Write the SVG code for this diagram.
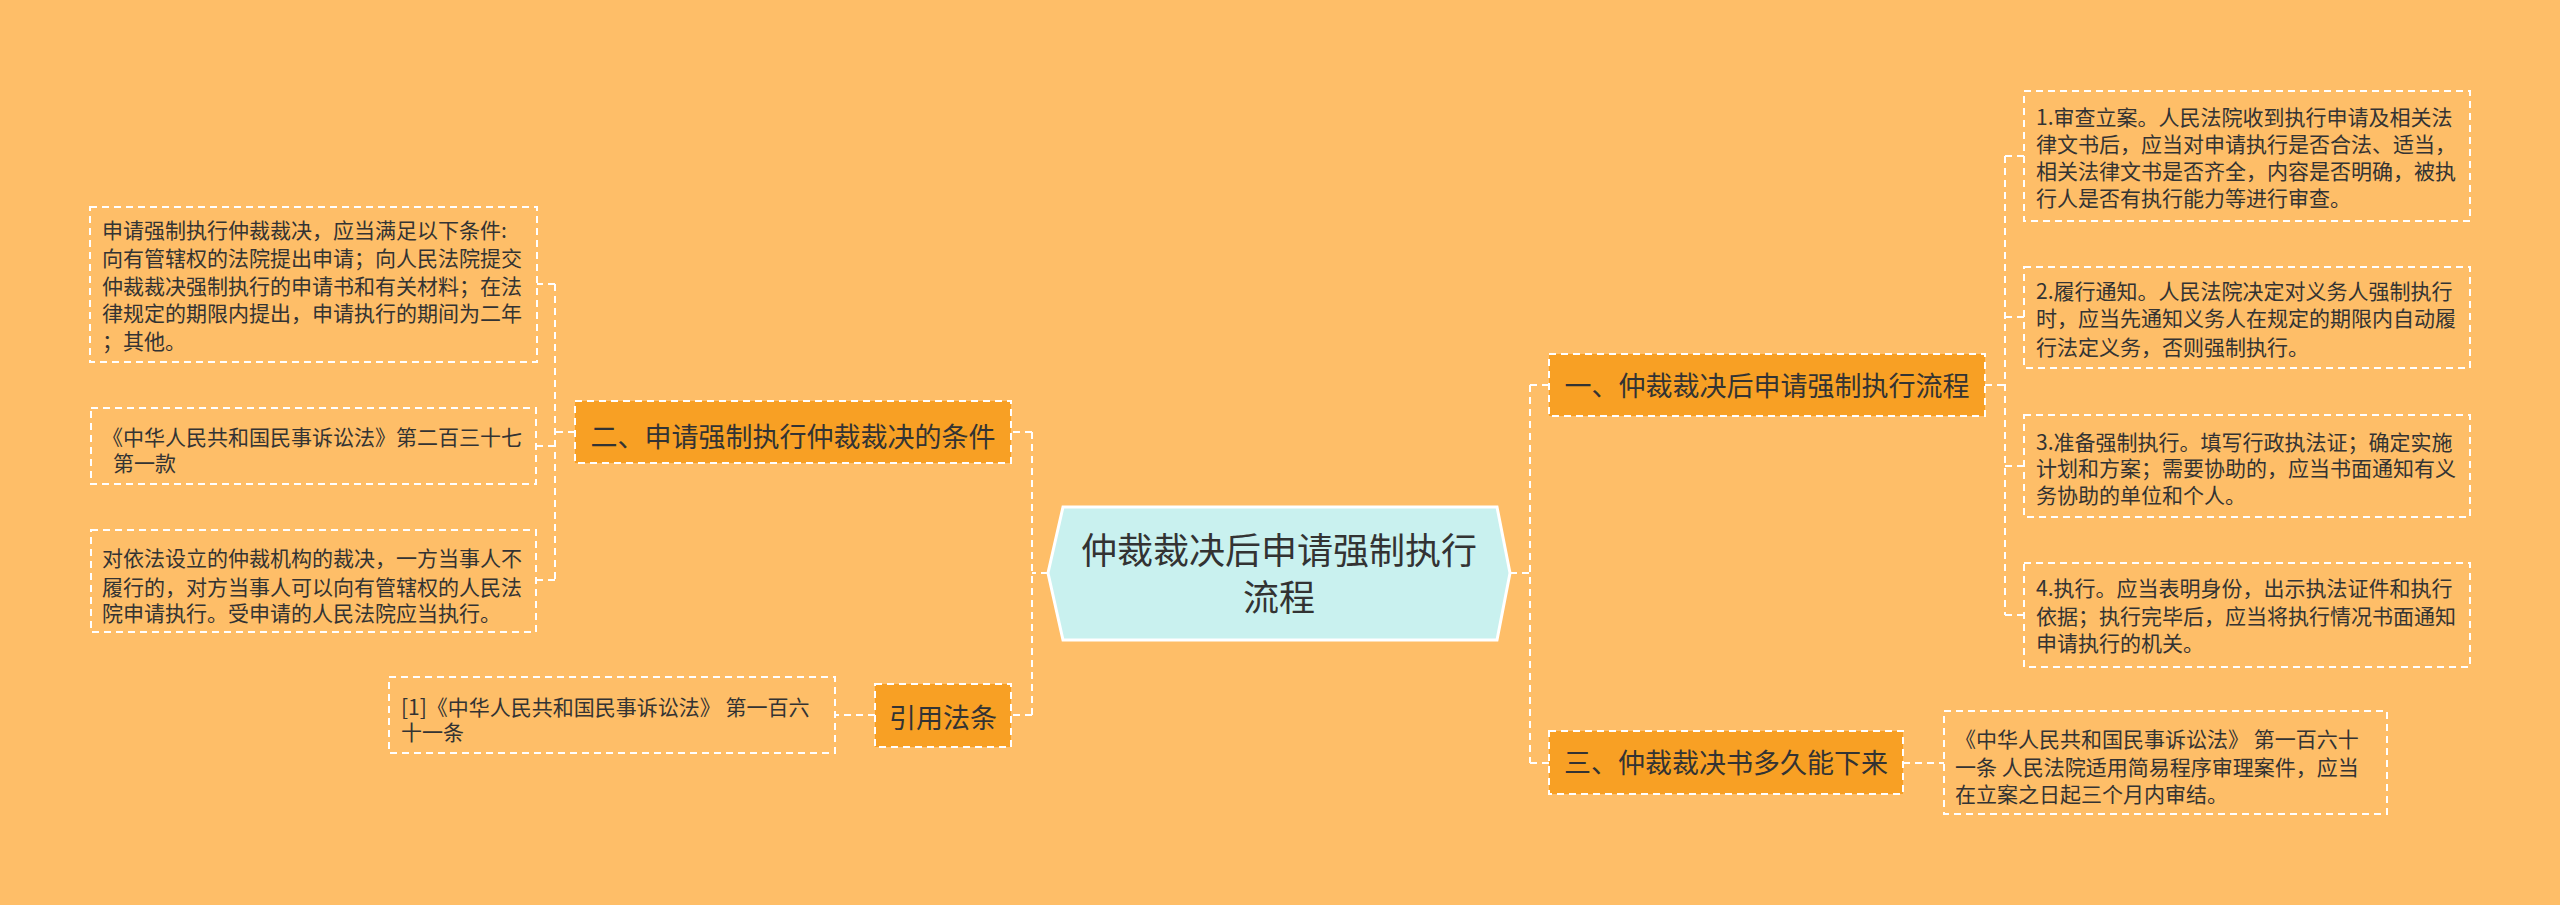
<svg xmlns="http://www.w3.org/2000/svg" width="2560" height="905" viewBox="0 0 2560 905">
<style>
.bg{fill:#FEBE68}
.branch{fill:#F8A024;stroke:#FFFFFF;stroke-width:2;stroke-dasharray:7,5}
.leaf{fill:none;stroke:#FFFFFF;stroke-width:2;stroke-dasharray:7,5}
.conn{fill:none;stroke:#FFFFFF;stroke-width:2;stroke-dasharray:7,5}
.t{font-family:"Microsoft YaHei","Noto Sans CJK SC","Noto Sans",sans-serif;fill:#333333}
.bt{font-size:27px;text-anchor:middle}
.lt{font-size:21px}
.ct{font-size:36px;text-anchor:middle}
</style>
<rect class="bg" x="0" y="0" width="2560" height="905"/>
<g id="connectors">
<path class="conn" d="M1048,573 H1032 M1032,432 V715 M1032,432 H1011 M1032,715 H1011"/>
<path class="conn" d="M575,432 H555 M555,284 V580 M555,284 H537 M555,446 H536 M555,580 H536"/>
<path class="conn" d="M875,715 H835"/>
<path class="conn" d="M1510,573 H1530 M1530,385 V763 M1530,385 H1549 M1530,763 H1549"/>
<path class="conn" d="M1985,385 H2005 M2005,156 V615 M2005,156 H2024 M2005,317 H2024 M2005,466 H2024 M2005,615 H2024"/>
<path class="conn" d="M1903,763 H1944"/>
</g>
<g id="center">
<polygon points="1063,507 1497,507 1510,573 1497,640 1063,640 1048,573" fill="#C9F1EF" stroke="#FFFFFF" stroke-width="3"/>
<text class="t ct" x="1279" y="564">仲裁裁决后申请强制执行</text>
<text class="t ct" x="1279" y="611">流程</text>
</g>
<g id="node-1">
<rect class="branch" x="1549" y="354" width="436" height="62"/>
<text class="t bt" x="1767" y="396">一、仲裁裁决后申请强制执行流程</text>
</g>
<g id="node-1-1">
<rect class="leaf" x="2024" y="91" width="446" height="130"/>
<text class="t lt"><tspan x="2036" y="125">1.审查立案。人民法院收到执行申请及相关法</tspan><tspan x="2036" y="152">律文书后，应当对申请执行是否合法、适当，</tspan><tspan x="2036" y="179">相关法律文书是否齐全，内容是否明确，被执</tspan><tspan x="2036" y="206">行人是否有执行能力等进行审查。</tspan></text>
</g>
<g id="node-1-2">
<rect class="leaf" x="2024" y="267" width="446" height="101"/>
<text class="t lt"><tspan x="2036" y="299">2.履行通知。人民法院决定对义务人强制执行</tspan><tspan x="2036" y="326">时，应当先通知义务人在规定的期限内自动履</tspan><tspan x="2036" y="355">行法定义务，否则强制执行。</tspan></text>
</g>
<g id="node-1-3">
<rect class="leaf" x="2024" y="415" width="446" height="102"/>
<text class="t lt"><tspan x="2036" y="450">3.准备强制执行。填写行政执法证；确定实施</tspan><tspan x="2036" y="476">计划和方案；需要协助的，应当书面通知有义</tspan><tspan x="2036" y="503">务协助的单位和个人。</tspan></text>
</g>
<g id="node-1-4">
<rect class="leaf" x="2024" y="563" width="446" height="104"/>
<text class="t lt"><tspan x="2036" y="596">4.执行。应当表明身份，出示执法证件和执行</tspan><tspan x="2036" y="624">依据；执行完毕后，应当将执行情况书面通知</tspan><tspan x="2036" y="651">申请执行的机关。</tspan></text>
</g>
<g id="node-3">
<rect class="branch" x="1549" y="731" width="354" height="63"/>
<text class="t bt" x="1726" y="773">三、仲裁裁决书多久能下来</text>
</g>
<g id="node-3-1">
<rect class="leaf" x="1944" y="711" width="443" height="103"/>
<text class="t lt"><tspan x="1955" y="747">《中华人民共和国民事诉讼法》 第一百六十</tspan><tspan x="1955" y="775">一条 人民法院适用简易程序审理案件，应当</tspan><tspan x="1955" y="802">在立案之日起三个月内审结。</tspan></text>
</g>
<g id="node-2">
<rect class="branch" x="575" y="401" width="436" height="62"/>
<text class="t bt" x="793" y="447">二、申请强制执行仲裁裁决的条件</text>
</g>
<g id="node-2-1">
<rect class="leaf" x="90" y="207" width="447" height="155"/>
<text class="t lt"><tspan x="102" y="238">申请强制执行仲裁裁决，应当满足以下条件:</tspan><tspan x="102" y="266">向有管辖权的法院提出申请；向人民法院提交</tspan><tspan x="102" y="294">仲裁裁决强制执行的申请书和有关材料；在法</tspan><tspan x="102" y="321">律规定的期限内提出，申请执行的期间为二年</tspan><tspan x="102" y="349">；其他。</tspan></text>
</g>
<g id="node-2-2">
<rect class="leaf" x="91" y="408" width="445" height="76"/>
<text class="t lt"><tspan x="102" y="445">《中华人民共和国民事诉讼法》第二百三十七</tspan><tspan x="113" y="471">第一款</tspan></text>
</g>
<g id="node-2-3">
<rect class="leaf" x="91" y="530" width="445" height="102"/>
<text class="t lt"><tspan x="102" y="566">对依法设立的仲裁机构的裁决，一方当事人不</tspan><tspan x="102" y="595">履行的，对方当事人可以向有管辖权的人民法</tspan><tspan x="102" y="621">院申请执行。受申请的人民法院应当执行。</tspan></text>
</g>
<g id="node-4">
<rect class="branch" x="875" y="684" width="136" height="63"/>
<text class="t bt" x="943" y="728">引用法条</text>
</g>
<g id="node-4-1">
<rect class="leaf" x="389" y="677" width="446" height="76"/>
<text class="t lt"><tspan x="401" y="715">[1]《中华人民共和国民事诉讼法》 第一百六</tspan><tspan x="401" y="740">十一条</tspan></text>
</g>
</svg>
